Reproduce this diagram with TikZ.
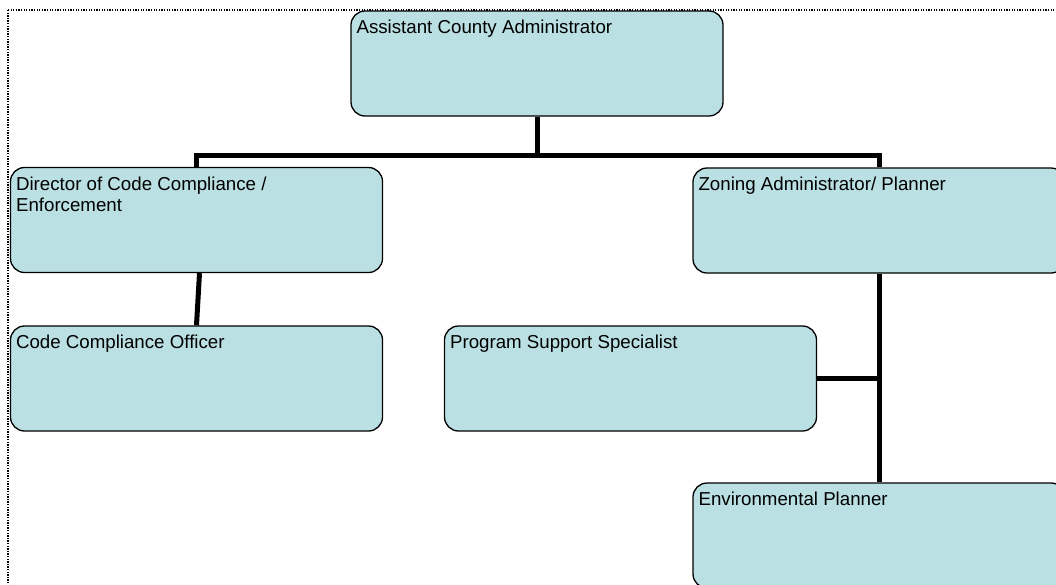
\documentclass[tikz,border=0pt]{standalone}
\usepackage{fontspec}
\setmainfont{Liberation Sans}
\usetikzlibrary{positioning}
\definecolor{boxfill}{RGB}{187,224,227}

\begin{document}
\begin{tikzpicture}[x=1pt, y=-1pt,
  post/.style={draw, line width=1.3pt, rounded corners=14pt, fill=boxfill,
    minimum width=372pt, minimum height=105pt, inner sep=0pt},
  title/.style={anchor=north west, align=left, inner xsep=6pt, inner ysep=9.5pt,
    font=\fontsize{18.7}{21.3}\selectfont},
  link/.style={line width=5pt}]
\useasboundingbox (0,0) rectangle (1056,584);
\clip (0,0) rectangle (1056,584);
\draw[line width=1.3pt, dash pattern=on 1.3pt off 1.3pt] (8,10) rectangle (1080,600);
\draw[] 
(537,63.5) node[post, label={[title]north west:Assistant County Administrator}] (aca) {}
(196.5,220) node[post, label={[title]north west:Director of Code Compliance /\\Enforcement}] (dir) {}
(879,220.5) node[post, label={[title]north west:Zoning Administrator/ Planner}] (zon) {}
(196.5,378.5) node[post, label={[title]north west:Code Compliance Officer}] (cco) {}
(630.5,378.5) node[post, label={[title]north west:Program Support Specialist}] (pss) {}
(879,535.5) node[post, label={[title]north west:Environmental Planner}] (env) {};
\coordinate (bus) at (537,155);
\draw[link] (aca.south) -- (bus);
\draw[link] (dir.north) |- (bus) -| (zon.north);
\draw[link] ([xshift=3pt]dir.south) -- (cco.north);
\draw[link] (zon.south) -- (env.north);
\draw[link] (pss.east) -- (pss.east -| zon.south);
\end{tikzpicture}
\end{document}
